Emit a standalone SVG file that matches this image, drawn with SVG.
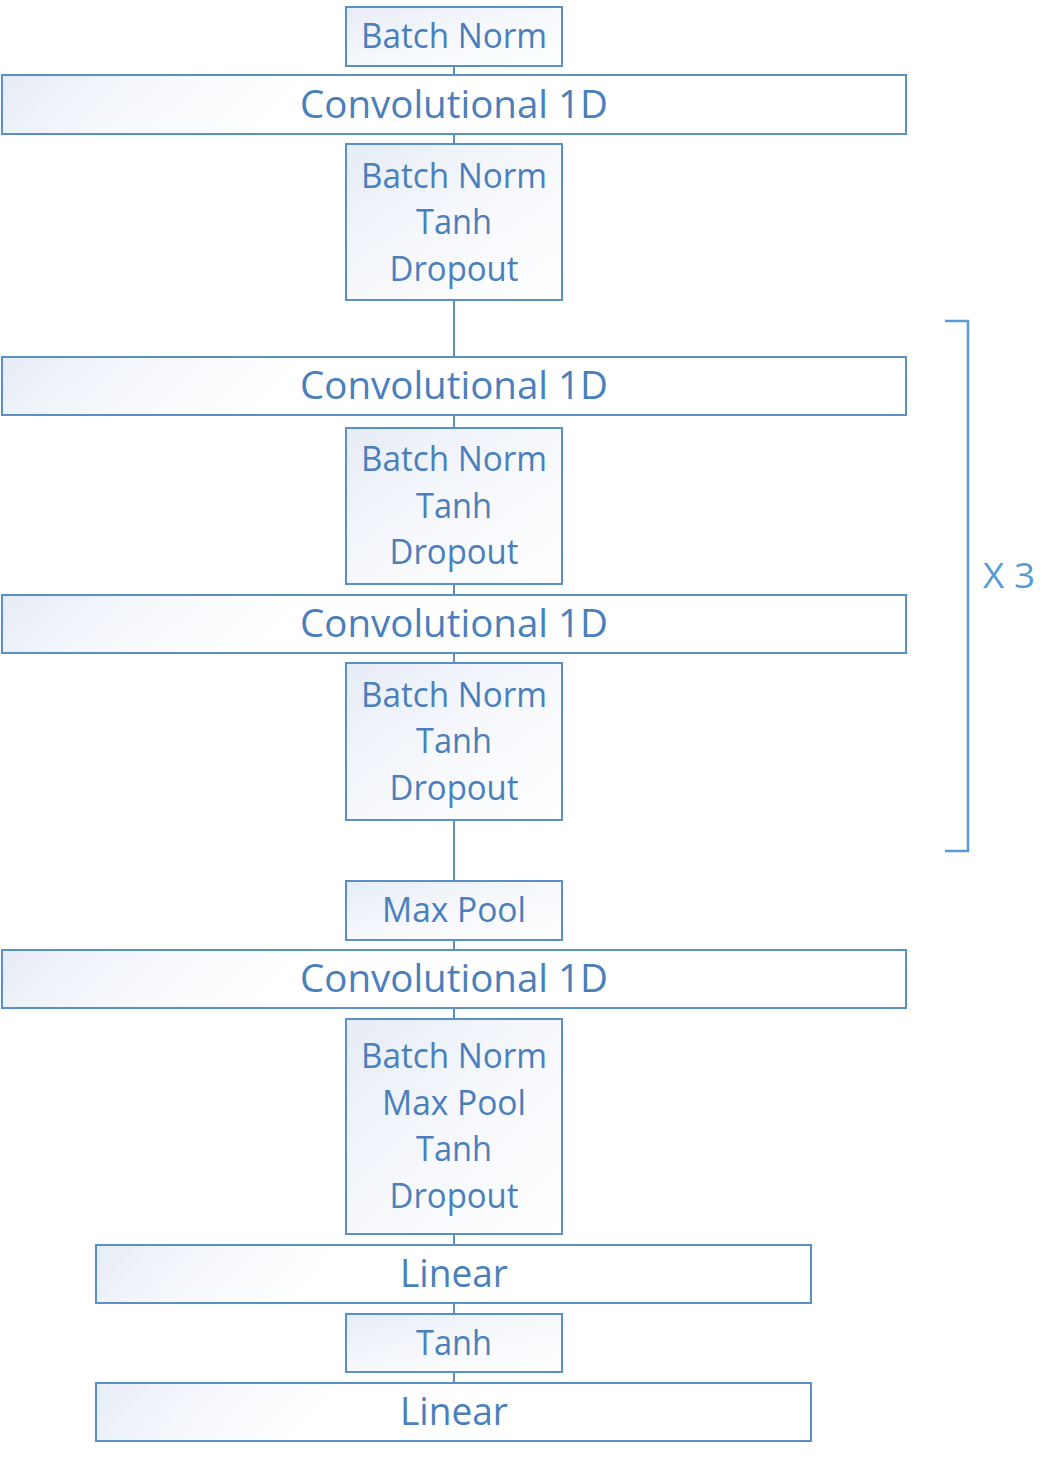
<svg xmlns="http://www.w3.org/2000/svg" width="1060" height="1460" viewBox="0 0 1060 1460">
<defs>
<linearGradient id="g" x1="0" y1="0" x2="1" y2="1">
<stop offset="0" stop-color="#e6ecf6"/>
<stop offset="0.5" stop-color="#f6f8fc"/>
<stop offset="1" stop-color="#ffffff"/>
</linearGradient>
<linearGradient id="gw" x1="0" y1="0" x2="0.35" y2="0.025">
<stop offset="0" stop-color="#e6ecf6"/>
<stop offset="0.5" stop-color="#f6f8fc"/>
<stop offset="1" stop-color="#ffffff"/>
</linearGradient>
<style>
.b{fill:url(#g);stroke:#5b8fc8;stroke-width:2}
.w{fill:url(#gw);stroke:#5b8fc8;stroke-width:2}
.t{font-family:"Open Sans","Liberation Sans",sans-serif;fill:#4a7fbd;text-anchor:middle;font-size:34px}
.T{font-family:"Open Sans","Liberation Sans",sans-serif;fill:#4a7fbd;text-anchor:middle;font-size:39px}
.c{stroke:#5b8fc8;stroke-width:2;fill:none}
</style>
</defs>
<rect width="1060" height="1460" fill="#ffffff"/>
<g id="connectors">
<line class="c" x1="454" y1="66" x2="454" y2="75"/>
<line class="c" x1="454" y1="134" x2="454" y2="144"/>
<line class="c" x1="454" y1="300" x2="454" y2="357"/>
<line class="c" x1="454" y1="415" x2="454" y2="428"/>
<line class="c" x1="454" y1="584" x2="454" y2="595"/>
<line class="c" x1="454" y1="653" x2="454" y2="663"/>
<line class="c" x1="454" y1="820" x2="454" y2="881"/>
<line class="c" x1="454" y1="940" x2="454" y2="950"/>
<line class="c" x1="454" y1="1008" x2="454" y2="1019"/>
<line class="c" x1="454" y1="1234" x2="454" y2="1245"/>
<line class="c" x1="454" y1="1303" x2="454" y2="1314"/>
<line class="c" x1="454" y1="1372" x2="454" y2="1383"/>
</g>
<g id="n_bn0"><rect class="b" x="346" y="7" width="216" height="59"/><text class="t" x="454" y="48" textLength="186" lengthAdjust="spacingAndGlyphs">Batch Norm</text></g>
<g id="n_conv1"><rect class="w" x="2" y="75" width="904" height="59"/><text class="T" x="454" y="118" textLength="308" lengthAdjust="spacingAndGlyphs">Convolutional 1D</text></g>
<g id="n_btd1"><rect class="b" x="346" y="144" width="216" height="156"/>
<text class="t" x="454" y="188" textLength="186" lengthAdjust="spacingAndGlyphs">Batch Norm</text>
<text class="t" x="454" y="234" textLength="76" lengthAdjust="spacingAndGlyphs">Tanh</text>
<text class="t" x="454" y="281" textLength="129" lengthAdjust="spacingAndGlyphs">Dropout</text></g>
<g id="n_conv2"><rect class="w" x="2" y="357" width="904" height="58"/><text class="T" x="454" y="399" textLength="308" lengthAdjust="spacingAndGlyphs">Convolutional 1D</text></g>
<g id="n_btd2"><rect class="b" x="346" y="428" width="216" height="156"/>
<text class="t" x="454" y="471" textLength="186" lengthAdjust="spacingAndGlyphs">Batch Norm</text>
<text class="t" x="454" y="518" textLength="76" lengthAdjust="spacingAndGlyphs">Tanh</text>
<text class="t" x="454" y="564" textLength="129" lengthAdjust="spacingAndGlyphs">Dropout</text></g>
<g id="n_conv3"><rect class="w" x="2" y="595" width="904" height="58"/><text class="T" x="454" y="637" textLength="308" lengthAdjust="spacingAndGlyphs">Convolutional 1D</text></g>
<g id="n_btd3"><rect class="b" x="346" y="663" width="216" height="157"/>
<text class="t" x="454" y="707" textLength="186" lengthAdjust="spacingAndGlyphs">Batch Norm</text>
<text class="t" x="454" y="753" textLength="76" lengthAdjust="spacingAndGlyphs">Tanh</text>
<text class="t" x="454" y="800" textLength="129" lengthAdjust="spacingAndGlyphs">Dropout</text></g>
<g id="n_pool"><rect class="b" x="346" y="881" width="216" height="59"/><text class="t" x="454" y="922" textLength="144" lengthAdjust="spacingAndGlyphs">Max Pool</text></g>
<g id="n_conv4"><rect class="w" x="2" y="950" width="904" height="58"/><text class="T" x="454" y="992" textLength="308" lengthAdjust="spacingAndGlyphs">Convolutional 1D</text></g>
<g id="n_bmtd"><rect class="b" x="346" y="1019" width="216" height="215"/>
<text class="t" x="454" y="1068" textLength="186" lengthAdjust="spacingAndGlyphs">Batch Norm</text>
<text class="t" x="454" y="1115" textLength="144" lengthAdjust="spacingAndGlyphs">Max Pool</text>
<text class="t" x="454" y="1161" textLength="76" lengthAdjust="spacingAndGlyphs">Tanh</text>
<text class="t" x="454" y="1208" textLength="129" lengthAdjust="spacingAndGlyphs">Dropout</text></g>
<g id="n_lin1"><rect class="w" x="96" y="1245" width="715" height="58"/><text class="T" x="454" y="1287" textLength="108" lengthAdjust="spacingAndGlyphs">Linear</text></g>
<g id="n_tanh"><rect class="b" x="346" y="1314" width="216" height="58"/><text class="t" x="454" y="1355" textLength="76" lengthAdjust="spacingAndGlyphs">Tanh</text></g>
<g id="n_lin2"><rect class="w" x="96" y="1383" width="715" height="58"/><text class="T" x="454" y="1425" textLength="108" lengthAdjust="spacingAndGlyphs">Linear</text></g>
<g id="repeat">
<path d="M945 321 H968 V851 H945" fill="none" stroke="#5b9bd5" stroke-width="2.5"/>
<text x="1009" y="588" font-family="'Open Sans','Liberation Sans',sans-serif" font-size="34" fill="#5b9bd5" text-anchor="middle" textLength="52" lengthAdjust="spacingAndGlyphs">X 3</text>
</g>
</svg>
